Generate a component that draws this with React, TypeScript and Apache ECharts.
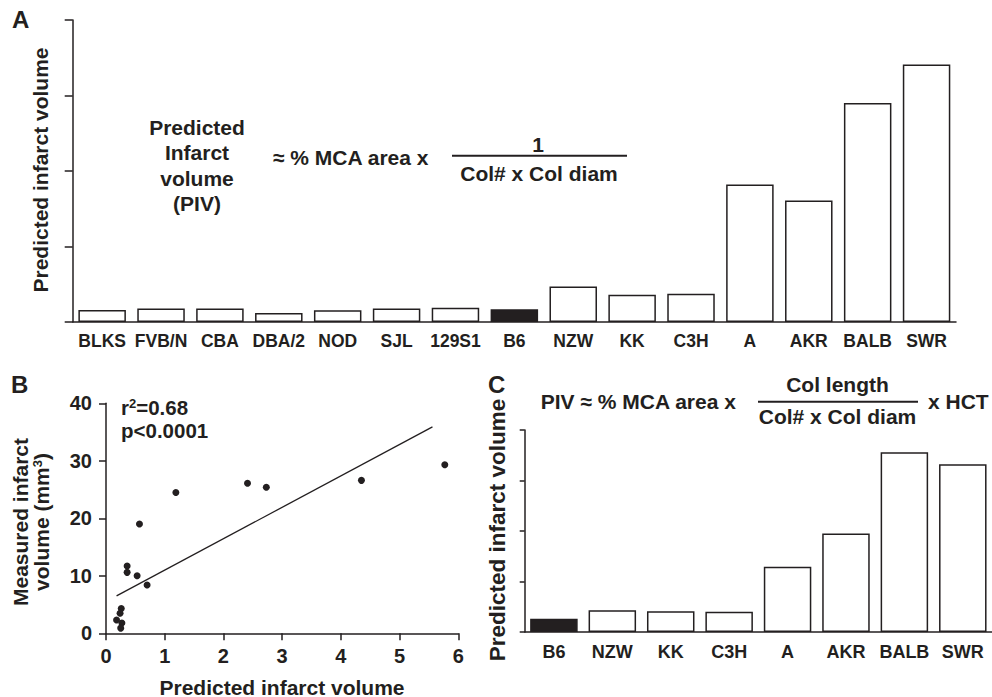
import React, { useEffect, useRef } from "react";
import * as echarts from "echarts";

const A_CATEGORIES = ["BLKS", "FVB/N", "CBA", "DBA/2", "NOD", "SJL", "129S1", "B6", "NZW", "KK", "C3H", "A", "AKR", "BALB", "SWR"];
const A_VALUES = [0.16, 0.18, 0.18, 0.12, 0.155, 0.18, 0.19, 0.17, 0.47, 0.36, 0.375, 1.82, 1.61, 2.9, 3.41];

const C_CATEGORIES = ["B6", "NZW", "KK", "C3H", "A", "AKR", "BALB", "SWR"];
const C_VALUES = [0.26, 0.43, 0.41, 0.4, 1.29, 1.95, 3.56, 3.32];

const HIGHLIGHT = "B6";

const B_X = [5.77, 4.35, 2.41, 2.73, 1.19, 0.57, 0.36, 0.36, 0.53, 0.7, 0.26, 0.24, 0.18, 0.27, 0.25];
const B_Y = [29.3, 26.6, 26.1, 25.4, 24.5, 19.0, 11.7, 10.6, 10.0, 8.4, 4.3, 3.5, 2.3, 1.8, 0.9];

const FIT_X = [0.18, 5.56];
const FIT_Y = [6.5, 35.9];

const INK = "#231f20";
const FONT = "'Liberation Sans', Arial, Helvetica, sans-serif";

function txt(text: string, x: number, y: number, size: number, align = "center", extra: any = {}) {
  const { lineHeight, rich, ...rest } = extra;
  const style: any = {
    text,
    fill: INK,
    fontSize: size,
    fontWeight: "bold",
    fontFamily: FONT,
    align,
    verticalAlign: "middle",
    textAlign: align,
    textVerticalAlign: "middle",
    lineHeight: lineHeight || size,
  };
  if (rich) style.rich = rich;
  return { type: "text", x, y, ...rest, style };
}

function hline(x1: number, x2: number, y: number) {
  return {
    type: "line",
    shape: { x1, y1: y, x2, y2: y },
    style: { stroke: INK, lineWidth: 2 },
  };
}

const richBase = (size: number, lh: number) => ({
  n: { fontSize: size, fontWeight: "bold", fontFamily: FONT, fill: INK, color: INK, lineHeight: lh, verticalAlign: "bottom" },
  sup: { fontSize: Math.round(size * 0.62), fontWeight: "bold", fontFamily: FONT, fill: INK, color: INK, lineHeight: lh, verticalAlign: "top" },
});

export default function App() {
  const ref = useRef<HTMLDivElement>(null);

  useEffect(() => {
    if (!ref.current) return;
    const chart = echarts.init(ref.current, undefined, { renderer: "svg" });

    const barData = (cats: string[], vals: number[]) =>
      vals.map((v, i) => ({
        value: v,
        itemStyle: cats[i] === HIGHLIGHT ? { color: INK, borderColor: INK } : { color: "#ffffff", borderColor: INK },
      }));

    const axisLabelStyle = (size: number) => ({
      color: INK,
      fontSize: size,
      fontWeight: "bold",
      fontFamily: FONT,
    });

    const option: any = {
      animation: false,
      backgroundColor: "#ffffff",
      grid: [
        { left: 72.7, top: 20, width: 883.3, height: 302, containLabel: false },
        { left: 106, top: 403.3, width: 352.3, height: 230, containLabel: false },
        { left: 524.7, top: 430, width: 471.2, height: 202, containLabel: false },
      ],
      xAxis: [
        {
          gridIndex: 0,
          type: "category",
          data: A_CATEGORIES,
          axisTick: { show: false },
          axisLine: { lineStyle: { color: INK, width: 1.5 } },
          axisLabel: { ...axisLabelStyle(17.5), margin: 10, interval: 0 },
        },
        {
          gridIndex: 1,
          type: "value",
          min: 0,
          max: 6,
          interval: 1,
          splitLine: { show: false },
          axisTick: { show: true, length: 7, lineStyle: { color: INK, width: 1.5 } },
          axisLine: { onZero: false, lineStyle: { color: INK, width: 1.5 } },
          axisLabel: { ...axisLabelStyle(20), margin: 13 },
        },
        {
          gridIndex: 2,
          type: "category",
          data: C_CATEGORIES,
          axisTick: { show: false },
          axisLine: { lineStyle: { color: INK, width: 1.5 } },
          axisLabel: { ...axisLabelStyle(18), margin: 11, interval: 0 },
        },
      ],
      yAxis: [
        {
          gridIndex: 0,
          type: "value",
          min: 0,
          max: 4,
          interval: 1,
          splitLine: { show: false },
          axisLabel: { show: false },
          axisTick: { show: true, length: 8, lineStyle: { color: INK, width: 1.5 } },
          axisLine: { show: true, lineStyle: { color: INK, width: 1.5 } },
        },
        {
          gridIndex: 1,
          type: "value",
          min: 0,
          max: 40,
          interval: 10,
          splitLine: { show: false },
          axisTick: { show: true, length: 7, lineStyle: { color: INK, width: 1.5 } },
          axisLine: { show: true, onZero: false, lineStyle: { color: INK, width: 1.5 } },
          axisLabel: { ...axisLabelStyle(20), margin: 14 },
        },
        {
          gridIndex: 2,
          type: "value",
          min: 0,
          max: 4,
          interval: 1,
          splitLine: { show: false },
          axisLabel: { show: false },
          axisTick: { show: true, length: 5, lineStyle: { color: INK, width: 1.5 } },
          axisLine: { show: true, lineStyle: { color: INK, width: 1.5 } },
        },
      ],
      series: [
        {
          type: "bar",
          xAxisIndex: 0,
          yAxisIndex: 0,
          barWidth: 47.5,
          data: barData(A_CATEGORIES, A_VALUES),
          itemStyle: { borderWidth: 1.5 },
        },
        {
          type: "line",
          xAxisIndex: 1,
          yAxisIndex: 1,
          data: FIT_X.map((x, i) => [x, FIT_Y[i]]),
          symbol: "none",
          lineStyle: { color: INK, width: 1.3 },
          z: 2,
        },
        {
          type: "scatter",
          xAxisIndex: 1,
          yAxisIndex: 1,
          data: B_X.map((x, i) => [x, B_Y[i]]),
          symbolSize: 7,
          itemStyle: { color: INK, opacity: 1 },
          z: 3,
        },
        {
          type: "bar",
          xAxisIndex: 2,
          yAxisIndex: 2,
          barWidth: 47.5,
          data: barData(C_CATEGORIES, C_VALUES),
          itemStyle: { borderWidth: 1.5 },
        },
      ],
      graphic: [
        // panel letters
        txt("A", 12, 19, 24, "left"),
        txt("B", 11, 384, 24, "left"),
        txt("C", 488, 384, 24, "left"),
        // panel A
        txt("Predicted infarct volume", 40, 170, 21, "center", { rotation: Math.PI / 2 }),
        txt("Predicted\nInfarct\nvolume\n(PIV)", 197, 165.5, 21, "center", { lineHeight: 25.6 }),
        txt("\u2248 % MCA area x", 273, 157, 21, "left"),
        hline(452, 627, 155.7),
        txt("1", 538, 144.5, 21, "center"),
        txt("Col# x Col diam", 539, 173, 21, "center"),
        // panel B
        txt("{n|Measured infarct}\n{n|volume (mm}{sup|3}{n|)}", 31, 522, 21, "center", {
          rotation: Math.PI / 2,
          lineHeight: 21,
          rich: richBase(21, 21),
        }),
        txt("Predicted infarct volume", 282, 687, 21, "center"),
        txt("{n|r}{sup|2}{n|=0.68}", 121, 407, 20.5, "left", { lineHeight: 21, rich: richBase(20.5, 21) }),
        txt("p<0.0001", 121, 430, 20.5, "left"),
        // panel C
        txt("Predicted infarct volume", 497, 530, 22.5, "center", { rotation: Math.PI / 2 }),
        txt("PIV \u2248 % MCA area x", 540.7, 401.7, 21, "left"),
        hline(758, 918, 401.7),
        txt("Col length", 837.5, 384, 21, "center"),
        txt("Col# x Col diam", 837.5, 416.5, 21, "center"),
        txt("x HCT", 928, 401.7, 21, "left"),
      ],
    };

    chart.setOption(option);
    return () => chart.dispose();
  }, []);

  return (
    <div
      ref={ref}
      style={{ position: "absolute", left: 0, top: 0, width: 992, height: 697, background: "#fff" }}
    />
  );
}
